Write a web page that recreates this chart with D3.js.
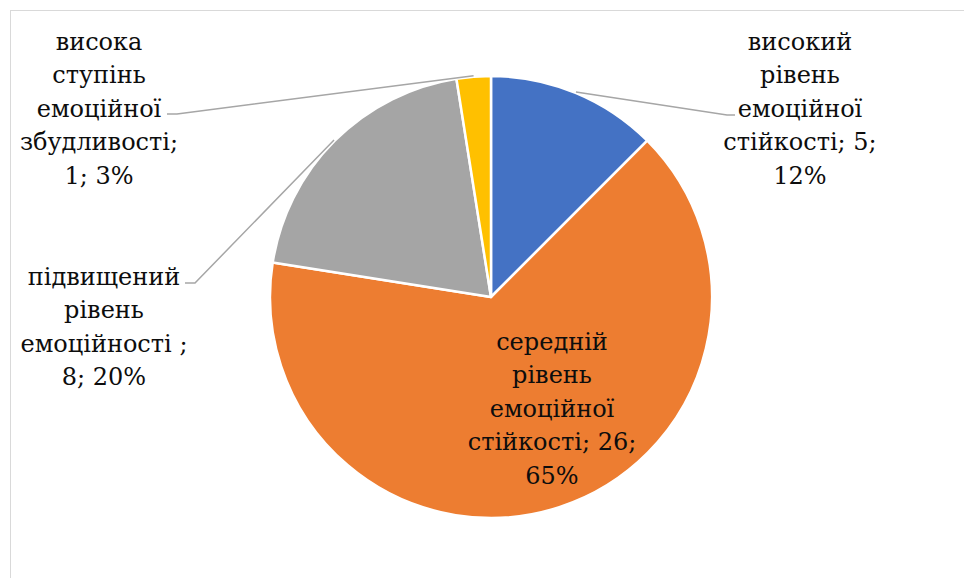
<!DOCTYPE html>
<html>
<head>
<meta charset="utf-8">
<script src="https://cdn.jsdelivr.net/npm/d3@7"></script>
<style>
  html, body { margin: 0; padding: 0; background: #fff; }
  svg { display: block; }
</style>
</head>
<body>
<svg id="chart" width="964" height="578"></svg>
<script>
// Category names (split into lines as shown on the labels), counts and colours
const categories = [
  ["високий", "рівень", "емоційної", "стійкості; 5;", "12%"],
  ["середній", "рівень", "емоційної", "стійкості; 26;", "65%"],
  ["підвищений", "рівень", "емоційності ;", "8; 20%"],
  ["висока", "ступінь", "емоційної", "збудливості;", "1; 3%"]
];
const values = [5, 26, 8, 1];
const percents = ["12%", "65%", "20%", "3%"];
const colors = ["#4472C4", "#ED7D31", "#A5A5A5", "#FFC000"];

const W = 964, H = 578;
const cx = 491, cy = 297, R = 221;
const fontSize = 24, lineH = 33.4;
const fontFamily = '"DejaVu Serif", "Liberation Serif", "Times New Roman", serif';

const svg = d3.select("#chart");

// chart area frame
svg.append("rect")
  .attr("x", 10.5).attr("y", 10.5)
  .attr("width", W).attr("height", H)
  .attr("fill", "none").attr("stroke", "#d9d9d9").attr("stroke-width", 1);

const pie = d3.pie().sort(null).value(d => d)(values);
const arc = d3.arc().innerRadius(0).outerRadius(R);

const g = svg.append("g").attr("transform", `translate(${cx},${cy})`);

g.selectAll("path.slice")
  .data(pie)
  .join("path")
  .attr("class", "slice")
  .attr("d", arc)
  .attr("fill", (d, i) => colors[i])
  .attr("stroke", "#fff")
  .attr("stroke-width", 2.5)
  .attr("stroke-linejoin", "round");

// label placement: centre x, first baseline y (page coordinates), and leader elbow
const labelLayout = [
  { x: 800, y: 50, leader: [[727, 115], [735, 115]] },
  { x: 552, y: 350, leader: null },
  { x: 104, y: 285, leader: [[195, 283], [185, 283]] },
  { x: 99,  y: 50, leader: [[177, 114], [167, 114]] }
];

// leader lines start at the slice's mid-angle on the outer edge
const outerArc = d3.arc().innerRadius(R + 1).outerRadius(R + 1);
pie.forEach((d, i) => {
  const L = labelLayout[i];
  if (!L.leader) return;
  const [sx, sy] = outerArc.centroid(d);
  const pts = [[cx + sx, cy + sy], ...L.leader];
  svg.append("path")
    .attr("d", d3.line()(pts))
    .attr("fill", "none")
    .attr("stroke", "#A6A6A6")
    .attr("stroke-width", 1.5);
});

// data labels
pie.forEach((d, i) => {
  const L = labelLayout[i];
  const t = svg.append("text")
    .attr("x", L.x).attr("y", L.y)
    .attr("text-anchor", "middle")
    .style("font-family", fontFamily)
    .style("font-size", fontSize + "px")
    .attr("fill", "#0d0d0d");
  categories[i].forEach((line, k) => {
    t.append("tspan")
      .attr("x", L.x)
      .attr("y", L.y + k * lineH)
      .text(line);
  });
});
</script>
</body>
</html>
